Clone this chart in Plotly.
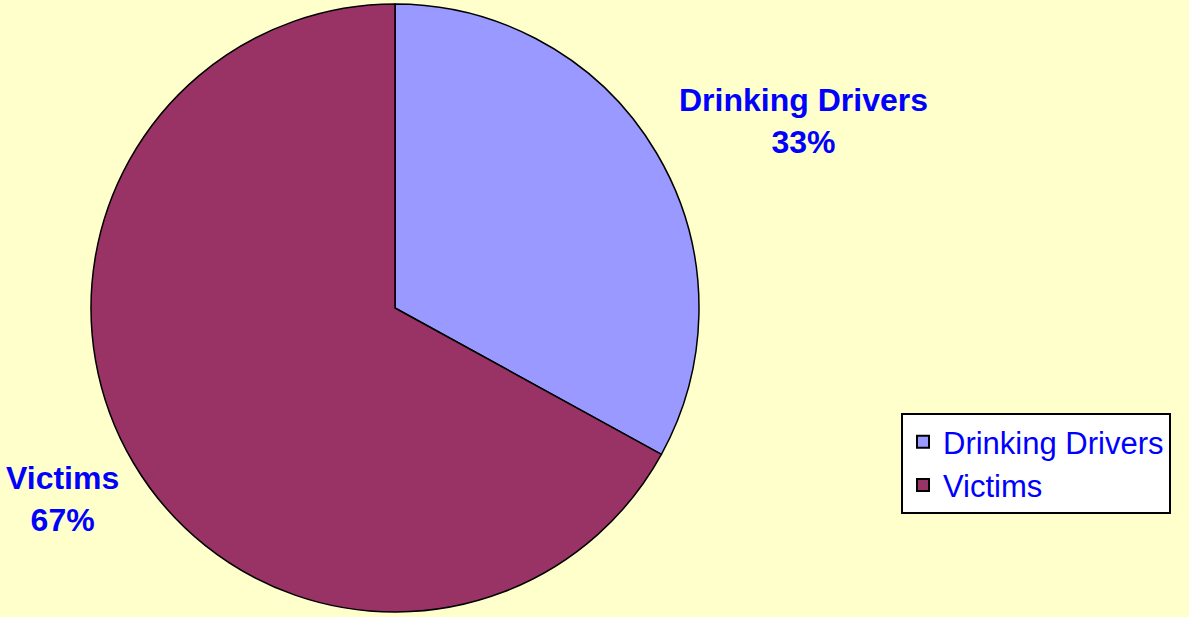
import plotly.graph_objects as go

labels = ["Drinking Drivers", "Victims"]
values = [33, 67]
colors = ["#9999FF", "#993366"]
label_pos = [(804, 121), (62, 499)]  # pixel centres of outside labels

W, H = 1189, 617
cx, cy, r = 395, 308, 304

fig = go.Figure(go.Pie(
    labels=labels, values=values, sort=False, direction="clockwise", rotation=0,
    marker=dict(colors=colors, line=dict(color="black", width=1.5)),
    textinfo="none", hoverinfo="label+percent",
    domain=dict(x=[(cx - r) / W, (cx + r) / W], y=[(H - cy - r) / H, (H - cy + r) / H]),
))

total = sum(values)
for lab, val, (px, py) in zip(labels, values, label_pos):
    fig.add_annotation(
        x=px / W, y=1 - py / H, xref="paper", yref="paper", showarrow=False,
        text=f"<b>{lab}<br>{round(val / total * 100)}%</b>",
        font=dict(family="Liberation Sans, Arial", size=32, color="#0000FF"),
        align="center", xanchor="center", yanchor="middle",
    )

fig.update_layout(
    width=W, height=H, margin=dict(l=0, r=0, t=0, b=0),
    paper_bgcolor="#FFFFCC", plot_bgcolor="#FFFFCC",
    showlegend=True,
    legend=dict(x=901 / W, y=1 - 413 / H, xanchor="left", yanchor="top",
                bgcolor="white", bordercolor="black", borderwidth=2,
                font=dict(family="Liberation Sans, Arial", size=31, color="#0000FF"),
                itemsizing="constant"),
)

fig.write_html("out.html", config={"displayModeBar": False},
               post_script="document.body.style.margin='0';document.body.style.background='#FFFFCC';")
